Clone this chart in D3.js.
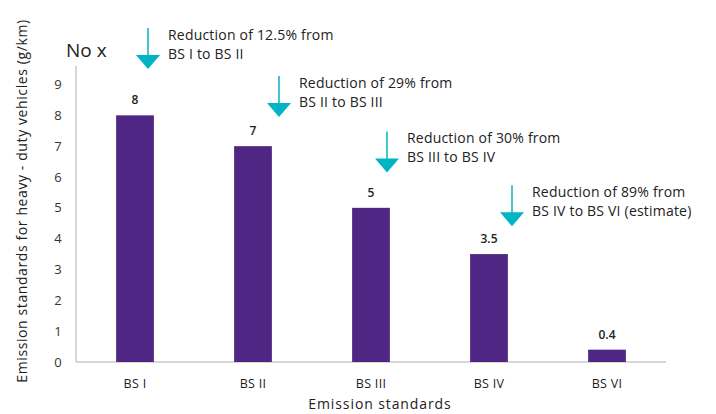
<!DOCTYPE html>
<html>
<head>
<meta charset="utf-8">
<script src="https://cdn.jsdelivr.net/npm/d3@7"></script>
<style>
  body { margin: 0; background: #fff; }
  svg text { font-family: "Open Sans", sans-serif; fill: #222; }
</style>
</head>
<body>
<div id="chart"></div>
<script>
// Emission standards for heavy-duty vehicles

const categories = ['BS I', 'BS II', 'BS III', 'BS IV', 'BS VI'];
const values = [8, 7, 5, 3.5, 0.4];
const valueLabels = ['8', '7', '5', '3.5', '0.4'];
const yTicks = [0, 1, 2, 3, 4, 5, 6, 7, 8, 9];
const notes = [
    ['Reduction of 12.5% from', 'BS I to BS II'],
    ['Reduction of 29% from', 'BS II to BS III'],
    ['Reduction of 30% from', 'BS III to BS IV'],
    ['Reduction of 89% from', 'BS IV to BS VI (estimate)']
];

const W = 716, H = 414;
const margin = { top: 66, right: 50, bottom: 52, left: 76 };
const width = W - margin.left - margin.right;
const height = H - margin.top - margin.bottom;

const svg = d3.select('#chart').append('svg')
    .attr('width', W)
    .attr('height', H);

const g = svg.append('g')
    .attr('transform', `translate(${margin.left},${margin.top})`);

const x = d3.scaleBand()
    .domain(categories)
    .range([0, width])
    .paddingInner(0.68)
    .paddingOuter(0.34);

const y = d3.scaleLinear()
    .domain([0, 9.6])
    .range([height, 0]);

// axes lines
g.append('line')
    .attr('x1', 0).attr('x2', 0)
    .attr('y1', 0).attr('y2', height)
    .attr('stroke', '#d6d6d6').attr('stroke-width', 2);

g.append('line')
    .attr('x1', 0).attr('x2', width)
    .attr('y1', height).attr('y2', height)
    .attr('stroke', '#d6d6d6').attr('stroke-width', 2);

// y tick labels
g.selectAll('.ytick')
    .data(yTicks)
    .enter().append('text')
    .attr('class', 'ytick')
    .attr('x', -18)
    .attr('y', d => y(d))
    .attr('dy', '0.35em')
    .attr('text-anchor', 'middle')
    .style('font-size', '13px')
    .style('fill', '#333')
    .text(d => d);

// x tick labels
g.selectAll('.xtick')
    .data(categories)
    .enter().append('text')
    .attr('class', 'xtick')
    .attr('x', d => x(d) + x.bandwidth() / 2)
    .attr('y', height + 26)
    .attr('text-anchor', 'middle')
    .style('font-size', '12.5px')
    .style('letter-spacing', '0.3px')
    .text(d => d);

// bars
g.selectAll('.bar')
    .data(values)
    .enter().append('rect')
    .attr('class', 'bar')
    .attr('x', (d, i) => x(categories[i]))
    .attr('y', d => y(d))
    .attr('width', x.bandwidth())
    .attr('height', d => height - y(d))
    .attr('fill', '#4f2683');

// value labels
g.selectAll('.bar-label')
    .data(values)
    .enter().append('text')
    .attr('class', 'bar-label')
    .attr('x', (d, i) => x(categories[i]) + x.bandwidth() / 2)
    .attr('y', d => y(d) - 11)
    .attr('text-anchor', 'middle')
    .style('font-size', '12px')
    .style('font-weight', '600')
    .text((d, i) => valueLabels[i]);

// annotations: arrow sits between bars, tip at a value above the next bar
const arrowTips = [9.5, 7.95, 6.15, 4.4];
const arrowShift = [13, 26, 16, 23];
const teal = '#00b4c6';

notes.forEach((lines, i) => {
    const cx = x(categories[i]) + x.bandwidth() / 2 + arrowShift[i];
    const tip = y(arrowTips[i]);
    const a = g.append('g').attr('class', 'note');
    a.append('line')
        .attr('x1', cx).attr('x2', cx)
        .attr('y1', tip - 41).attr('y2', tip - 12)
        .attr('stroke', teal).attr('stroke-width', 1.5);
    a.append('path')
        .attr('d', `M${cx - 12},${tip - 14} L${cx + 12},${tip - 14} L${cx},${tip} Z`)
        .attr('fill', teal);
    lines.forEach((t, j) => {
        a.append('text')
            .attr('x', cx + 20)
            .attr('y', tip - 29 + j * 19)
            .style('font-size', '14px')
            .style('letter-spacing', '0.2px')
            .text(t);
    });
});

// titles
svg.append('text')
    .attr('x', 66)
    .attr('y', 57)
    .style('font-size', '19px')
    .text('No x');

svg.append('text')
    .attr('x', 380)
    .attr('y', 409)
    .attr('text-anchor', 'middle')
    .style('font-size', '14px')
    .style('letter-spacing', '0.9px')
    .text('Emission standards');

svg.append('text')
    .attr('transform', 'translate(27,201) rotate(-90)')
    .attr('text-anchor', 'middle')
    .style('font-size', '14px')
    .style('letter-spacing', '0.6px')
    .text('Emission standards for heavy - duty vehicles (g/km)');
</script>
</body>
</html>
